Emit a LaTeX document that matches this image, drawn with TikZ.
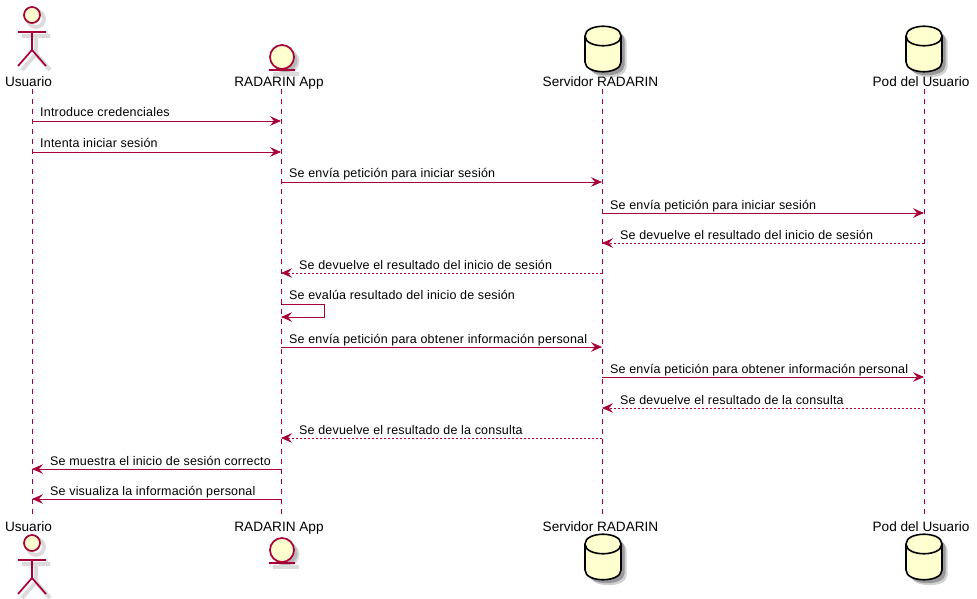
\documentclass[tikz,border=0pt]{standalone}
\usepackage{xcolor}
\usepackage{fontspec}
\setmainfont{Liberation Sans}
\newfontfamily\msgfont[LetterSpace=1.5]{Liberation Sans}
\usepackage{tikz}
\usetikzlibrary{arrows.meta}
\definecolor{umlline}{HTML}{A80036}
\definecolor{umlfill}{HTML}{FEFECE}
\tikzset{>={Stealth[length=11pt,width=9.5pt,inset=4pt]}}
\tikzset{life/.style={draw=umlline,line width=0.9pt,dash pattern=on 5pt off 5pt}}
\tikzset{msg/.style={draw=umlline,line width=0.9pt,->}}
\tikzset{reply/.style={draw=umlline,line width=0.9pt,dash pattern=on 2pt off 2pt,->}}
\tikzset{partlabel/.style={inner sep=0pt,anchor=base,font=\fontsize{13.6}{16}\selectfont,text=black}}
\tikzset{msglabel/.style={inner sep=0pt,anchor=base west,font=\fontsize{12.5}{15}\msgfont,text=black}}
\tikzset{shadowline/.style={draw=black!14,line width=4pt}}
\tikzset{umlshape/.style={draw=umlline,line width=1.7pt,fill=umlfill}}
\tikzset{dbshape/.style={draw=black,line width=1.6pt,fill=umlfill}}
\tikzset{dbpath/.style={insert path={(-18,-13) .. controls (-18,-26) and (18,-26) .. (18,-13) -- (18,13) .. controls (18,26) and (-18,26) .. (-18,13) -- cycle}}}
\tikzset{pics/actorfig/.style={code={
\draw[shadowline] (4,4) circle (8) (4,21) -- (4,39) (-10,21) -- (18,21) (4,39) -- (-10,55) (4,39) -- (18,55);
\draw[umlshape,fill=none] (0,17) -- (0,35) (-14,17) -- (14,17) (0,35) -- (-14,51) (0,35) -- (14,51);
\draw[umlshape] (0,0) circle (8);
}}}
\tikzset{pics/entityfig/.style={code={
\fill[black!14] (4.5,4.5) circle (13);
\fill[black!28] (3.5,3.5) circle (12);
\draw[shadowline] (-9,17) -- (17,17);
\draw[umlshape] (0,0) circle (12);
\draw[umlshape] (-13,13) -- (13,13);
}}}
\tikzset{pics/dbfig/.style={code={
\fill[black!18,shift={(5.5,5.5)},dbpath];
\fill[black!40,shift={(3.5,3.5)},dbpath];
\draw[dbshape,dbpath];
\draw[dbshape,fill=none] (-18,-13) .. controls (-18,0) and (18,0) .. (18,-13);
}}}
\begin{document}
\begin{tikzpicture}[x=1pt,y=-1pt]
\useasboundingbox (0,0) rectangle (977,599);
% participants, top row
\pic at (32,15) {actorfig};
\pic at (282,57) {entityfig};
\pic at (603,49) {dbfig};
\pic at (924,49) {dbfig};
\node[partlabel] (usuario) at (28.5,87) {Usuario};
\node[partlabel] (app) at (279,87) {RADARIN App};
\node[partlabel] (servidor) at (600.5,87) {Servidor RADARIN};
\node[partlabel] (pod) at (921,87) {Pod del Usuario};
% participants, bottom row
\pic at (32,543) {actorfig};
\pic at (282,550) {entityfig};
\pic at (603,557) {dbfig};
\pic at (924,557) {dbfig};
\node[partlabel] (usuariob) at (28.5,531.5) {Usuario};
\node[partlabel] (appb) at (279,531.5) {RADARIN App};
\node[partlabel] (servidorb) at (600.5,531.5) {Servidor RADARIN};
\node[partlabel] (podb) at (921,531.5) {Pod del Usuario};
% lifelines
\foreach \n/\x in {u/32,a/281,s/602,p/924} {
\coordinate (\n top) at (\x,89);
\coordinate (\n bot) at (\x,516);
\draw[life] (\n top) -- (\n bot);
}
% messages
\foreach \i/\a/\b/\y/\st/\lx/\txt in {
1/32/281/121/msg/40/Introduce credenciales,
2/32/281/152/msg/40/Intenta iniciar sesión,
3/281/602/182/msg/289/Se envía petición para iniciar sesión,
4/602/924/213/msg/610/Se envía petición para iniciar sesión,
5/924/602/243/reply/620/Se devuelve el resultado del inicio de sesión,
6/602/281/273/reply/299/Se devuelve el resultado del inicio de sesión,
8/281/602/347/msg/289/Se envía petición para obtener información personal,
9/602/924/377/msg/610/Se envía petición para obtener información personal,
10/924/602/408/reply/620/Se devuelve el resultado de la consulta,
11/602/281/438/reply/299/Se devuelve el resultado de la consulta,
12/281/32/469/msg/50/Se muestra el inicio de sesión correcto,
13/281/32/499/msg/50/Se visualiza la información personal} {
\coordinate (from\i) at (\a,\y);
\coordinate (to\i) at (\b,\y);
\draw[\st] (from\i) -- (to\i);
\node[msglabel] (label\i) at (\lx,\y-4) {\txt};
}
% self message
\coordinate (from7) at (281,304);
\coordinate (to7) at (281,317);
\draw[msg] (from7) -- ++(43,0) |- (to7);
\node[msglabel] (label7) at (289,299.5) {Se evalúa resultado del inicio de sesión};
\end{tikzpicture}
\end{document}
